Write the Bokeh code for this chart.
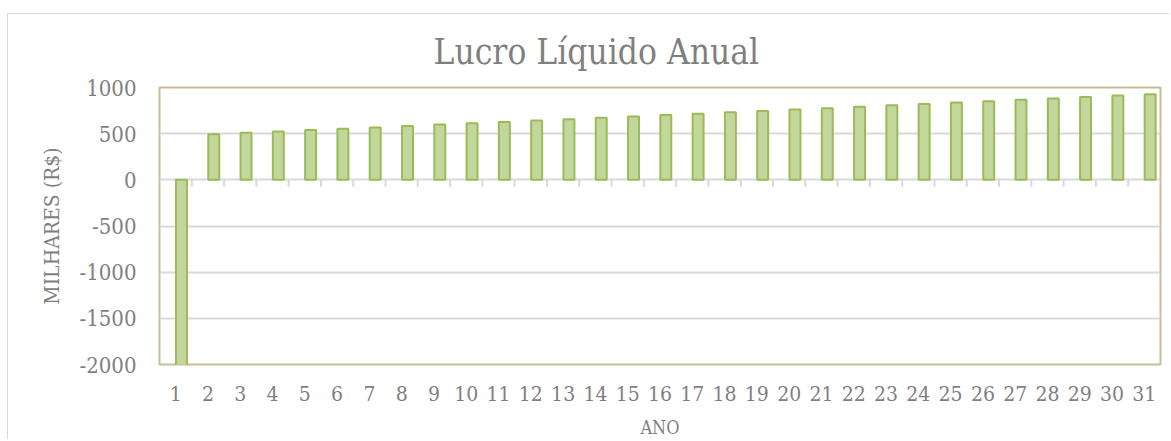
from bokeh.plotting import figure
from bokeh.models import ColumnDataSource, FixedTicker, FactorRange, Range1d
from bokeh.transform import dodge
from bokeh.embed import file_html
from bokeh.resources import INLINE

anos = ["1", "2", "3", "4", "5", "6", "7", "8", "9", "10", "11", "12", "13", "14", "15", "16",
        "17", "18", "19", "20", "21", "22", "23", "24", "25", "26", "27", "28", "29", "30", "31"]
lucro = [-2020, 495, 510, 524, 539, 554, 568, 583, 598, 613, 627, 642, 657, 672, 687, 701,
         716, 731, 746, 761, 776, 792, 807, 822, 837, 852, 867, 882, 898, 913, 928]
y_ticks = [-2000, -1500, -1000, -500, 0, 500, 1000]

titulo = "Lucro Líquido Anual"
rotulo_y = "MILHARES (R$)"
rotulo_x = "ANO"

FONT = "DejaVu Serif Condensed"
GRAY = "#7F7F7F"

src = ColumnDataSource(dict(ano=anos, lucro=lucro))

W, H = 1162, 426
p = figure(width=W, height=H, output_backend="svg", toolbar_location=None,
           x_range=FactorRange(factors=anos, range_padding=0), y_range=Range1d(-2000, 1000),
           min_border_left=151, min_border_right=10, min_border_top=72, min_border_bottom=75)
p.styles = {"border-top": "1px solid #D9D9D9", "border-left": "1px solid #D9D9D9",
            "margin-top": "13px", "margin-left": "7px"}

# title: left-aligned with an offset so it sits centred over the whole chart area
p.title.text = titulo
p.title.align = "left"
p.title.offset = 274
p.title.text_font = FONT
p.title.text_font_size = "35px"
p.title.text_font_style = "normal"
p.title.text_color = GRAY
p.title.standoff = 31

p.outline_line_color = "#C4BD97"
p.outline_line_width = 2
p.xgrid.grid_line_color = None
p.ygrid.grid_line_color = "#D9D9D9"
p.ygrid.grid_line_width = 2
p.yaxis.ticker = FixedTicker(ticks=y_ticks)
p.yaxis.major_label_overrides = {t: str(t) for t in y_ticks}

for ax in (p.xaxis[0], p.yaxis[0]):
    ax.axis_line_color = None
    ax.major_tick_line_color = None
    ax.minor_tick_line_color = None
    ax.major_label_text_font = FONT
    ax.major_label_text_color = GRAY
    ax.axis_label_text_font = FONT
    ax.axis_label_text_color = GRAY
    ax.axis_label_text_font_style = "normal"

p.yaxis.major_label_text_font_size = "22px"
p.yaxis.major_label_standoff = 17
p.yaxis.axis_label = rotulo_y
p.yaxis.axis_label_text_font_size = "21px"
p.yaxis.axis_label_standoff = 12

p.xaxis.major_label_text_font_size = "21px"
p.xaxis.major_label_standoff = 15
p.xaxis.axis_label = rotulo_x
p.xaxis.axis_label_text_font_size = "18px"
p.xaxis.axis_label_standoff = 13

# category boundary ticks under the zero line
tick_src = ColumnDataSource(dict(ano=anos[:-1]))
p.segment(x0=dodge("ano", 0.5, range=p.x_range), x1=dodge("ano", 0.5, range=p.x_range),
          y0=0, y1=-75, source=tick_src, line_color="#D9D9D9", line_width=2)

p.vbar(x=dodge("ano", 0.18, range=p.x_range), top="lucro", bottom=0, width=0.34, source=src,
       fill_color="#C3D69B", line_color="#9BBB59", line_width=2)

open("out.html", "w").write(file_html(p, INLINE))
